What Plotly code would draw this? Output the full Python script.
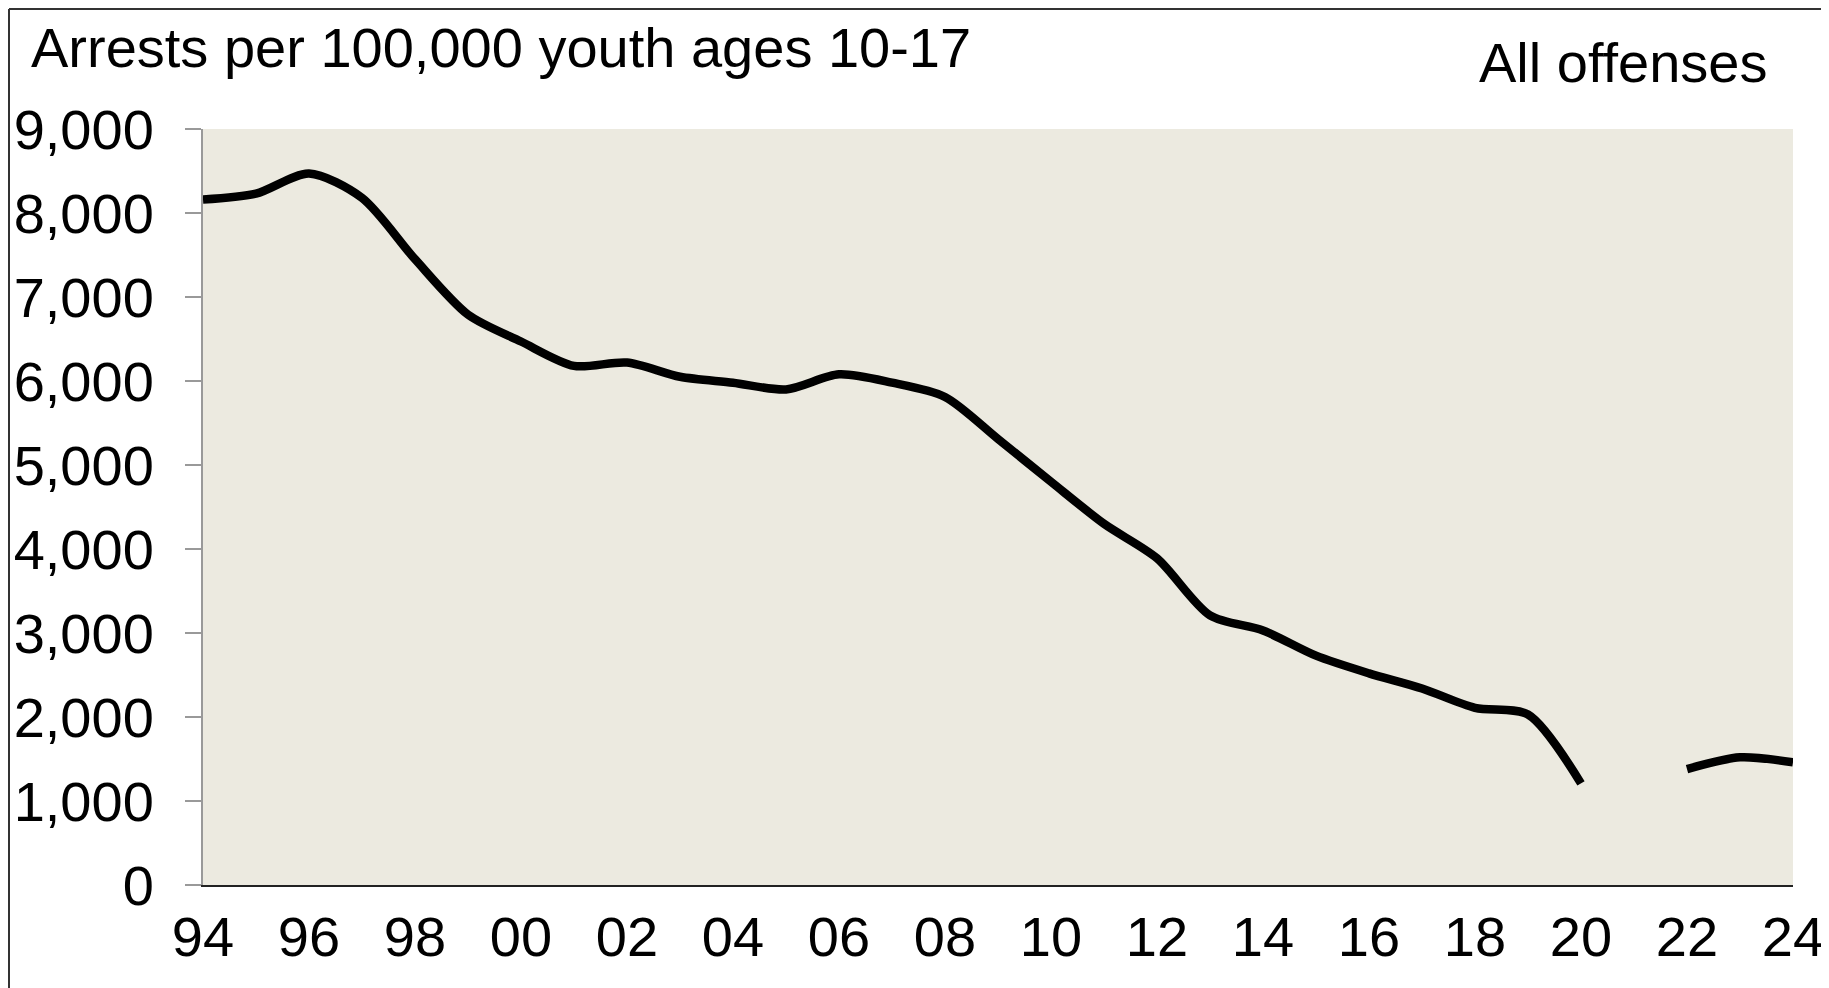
import plotly.graph_objects as go

# Youth arrest rate, all offenses (per 100,000 youth ages 10-17)
years = list(range(1994, 2025))
arrest_rate = [
    8160, 8230, 8470, 8180, 7450, 6790, 6470, 6180, 6220, 6050,
    5980, 5900, 6080, 5980, 5810, 5310, 4800, 4300, 3890, 3210,
    3030, 2730, 2520, 2340, 2110, 2030, 1210, None, 1380, 1520,
    1460,
]
tick_years = list(range(1994, 2025, 2))
tick_labels = [str(y)[-2:] for y in tick_years]
y_ticks = list(range(0, 9001, 1000))
y_labels = [f"{v:,}" for v in y_ticks]

FONT = "Liberation Sans, Arial, sans-serif"
W, H = 1829, 988
OFF = 8  # page body margin in the browser
# plot area in page pixels: x 203..1793, y 129..885
L, T = 203 - OFF, 129 - OFF
R, B = W - 1793 + OFF, H - 885 + OFF
pw, ph = W - L - R, H - T - B


def px_x(px):
    return (px - OFF - L) / pw


def px_y(py):
    return (H - B - (py - OFF)) / ph


fig = go.Figure()
fig.add_trace(go.Scatter(
    x=years,
    y=arrest_rate,
    mode="lines",
    line=dict(color="black", width=8.5, shape="spline", smoothing=0.8),
    connectgaps=False,
    showlegend=False,
))

fig.update_layout(
    width=W,
    height=H,
    margin=dict(l=L, r=R, t=T, b=B),
    paper_bgcolor="white",
    plot_bgcolor="#ECEAE0",
    font=dict(family=FONT, size=56, color="black"),
    xaxis=dict(
        range=[1994, 2024],
        tickvals=tick_years,
        ticktext=tick_labels,
        showgrid=False,
        zeroline=False,
        showline=True,
        linecolor="#222222",
        linewidth=2,
        ticks="",
        ticklabelstandoff=2,
        automargin=False,
        tickfont=dict(size=56),
    ),
    yaxis=dict(
        range=[0, 9000],
        tickvals=y_ticks,
        ticktext=y_labels,
        showgrid=False,
        zeroline=False,
        showline=True,
        linecolor="#999999",
        linewidth=2,
        ticks="outside",
        ticklen=16,
        tickwidth=2,
        tickcolor="#999999",
        ticklabelstandoff=20,
        automargin=False,
        tickfont=dict(size=56),
    ),
    annotations=[
        dict(text="Arrests per 100,000 youth ages 10-17",
             xref="paper", yref="paper", x=px_x(29), y=px_y(48),
             xanchor="left", yanchor="middle", showarrow=False,
             font=dict(size=56)),
        dict(text="All offenses",
             xref="paper", yref="paper", x=px_x(1769), y=px_y(62),
             xanchor="right", yanchor="middle", showarrow=False,
             font=dict(size=56)),
    ],
    shapes=[
        # frame around the chart (left and top edges visible)
        dict(type="line", xref="paper", yref="paper",
             x0=px_x(OFF + 1), x1=px_x(OFF + 1),
             y0=px_y(OFF + 1), y1=px_y(H + 20),
             line=dict(color="#333333", width=2)),
        dict(type="line", xref="paper", yref="paper",
             x0=px_x(OFF + 1), x1=px_x(W + 20),
             y0=px_y(OFF + 1), y1=px_y(OFF + 1),
             line=dict(color="#333333", width=2)),
    ],
)

fig.write_html("out.html")
